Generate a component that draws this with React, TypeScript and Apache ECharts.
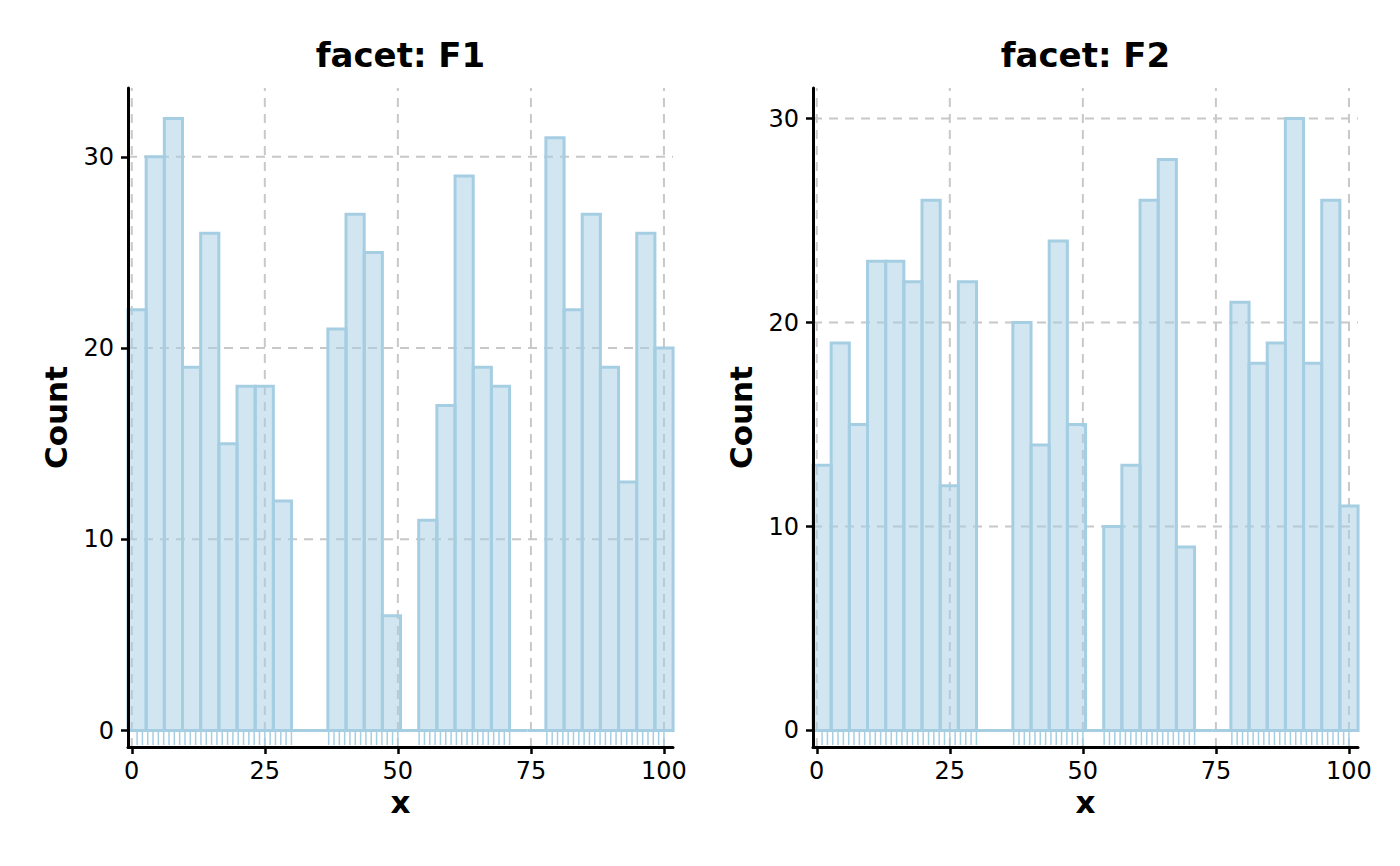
import React, { useEffect, useRef } from "react";
import * as echarts from "echarts";

// ---- data ----
const FACETS = ["F1", "F2"];
const BIN_START = -0.707;
const BIN_WIDTH = 3.414;
const COUNTS_F1 = [22, 30, 32, 19, 26, 15, 18, 18, 12, 0, 0, 21, 27, 25, 6, 0, 11, 17, 29, 19, 18, 0, 0, 31, 22, 27, 19, 13, 26, 20];
const COUNTS_F2 = [13, 19, 15, 23, 23, 22, 26, 12, 22, 0, 0, 20, 14, 24, 15, 0, 10, 13, 26, 28, 9, 0, 0, 21, 18, 19, 30, 18, 26, 11];
const RUG_F1 = [
  1, 2, 3, 4, 5, 6, 7, 8, 9, 10, 11, 12, 13, 14, 15, 16, 17, 18, 19, 20, 21, 22, 23, 24, 25, 26, 27, 28, 29, 30,
  37, 38, 39, 40, 41, 42, 43, 44, 45, 46, 47, 48, 49, 50,
  54, 55, 56, 57, 58, 59, 60, 61, 62, 63, 64, 65, 66, 67, 68, 69, 70, 71,
  78, 79, 80, 81, 82, 83, 84, 85, 86, 87, 88, 89, 90, 91, 92, 93, 94, 95, 96, 97, 98, 99, 100,
];
const RUG_F2 = [
  1, 2, 3, 4, 5, 6, 7, 8, 9, 10, 11, 12, 13, 14, 15, 16, 17, 18, 19, 20, 21, 22, 23, 24, 25, 26, 27, 28, 29, 30,
  37, 38, 39, 40, 41, 42, 43, 44, 45, 46, 47, 48, 49, 50,
  54, 55, 56, 57, 58, 59, 60, 61, 62, 63, 64, 65, 66, 67, 68, 69, 70, 71,
  78, 79, 80, 81, 82, 83, 84, 85, 86, 87, 88, 89, 90, 91, 92, 93, 94, 95, 96, 97, 98, 99, 100,
];
const X_TICKS = [0, 25, 50, 75, 100];
const Y_TICKS_F1 = [0, 10, 20, 30];
const Y_TICKS_F2 = [0, 10, 20, 30];
const X_RANGE = [-0.707, 101.7];
const Y_RANGE_F1 = [-0.86, 33.6];
const Y_RANGE_F2 = [-0.81, 31.5];

// ---- layout / style ----
const FONT = '"DejaVu Sans", "Liberation Sans", sans-serif';
const GRIDS = [
  { left: 128, top: 88, width: 545, height: 659 },
  { left: 813, top: 88, width: 545, height: 659 },
];
const BAR_FILL = "rgba(166,206,227,0.5)";
const BAR_STROKE = "#a6cee3";
const GRID_COLOR = "#c8c8c8";
const GRID_DASH = [9, 7];

function binsOf(counts: number[]) {
  return counts.map((c, i) => [BIN_START + i * BIN_WIDTH, BIN_START + (i + 1) * BIN_WIDTH, c]);
}

export default function App() {
  const ref = useRef<HTMLDivElement>(null);

  useEffect(() => {
    if (!ref.current) return;
    const chart = echarts.init(ref.current, undefined, { renderer: "svg" });

    const facetData = [
      { name: FACETS[0], counts: COUNTS_F1, rug: RUG_F1, yTicks: Y_TICKS_F1, yRange: Y_RANGE_F1 },
      { name: FACETS[1], counts: COUNTS_F2, rug: RUG_F2, yTicks: Y_TICKS_F2, yRange: Y_RANGE_F2 },
    ];

    const grid: any[] = [];
    const xAxis: any[] = [];
    const yAxis: any[] = [];
    const series: any[] = [];
    const graphic: any[] = [];

    facetData.forEach((f, i) => {
      const g = GRIDS[i];
      grid.push({ ...g, containLabel: false });
      xAxis.push({
        gridIndex: i,
        type: "value",
        min: X_RANGE[0],
        max: X_RANGE[1],
        z: 10,
        axisLine: { show: true, onZero: false, lineStyle: { color: "#000", width: 3 } },
        axisTick: { show: true, length: 7, customValues: X_TICKS, lineStyle: { color: "#000", width: 2.5 } },
        axisLabel: { customValues: X_TICKS, fontSize: 24, color: "#000", fontFamily: FONT, margin: 12 },
        splitLine: { show: false },
      });
      yAxis.push({
        gridIndex: i,
        type: "value",
        min: f.yRange[0],
        max: f.yRange[1],
        z: 10,
        axisLine: { show: true, onZero: false, lineStyle: { color: "#000", width: 3 } },
        axisTick: { show: true, length: 7, customValues: f.yTicks, lineStyle: { color: "#000", width: 2.5 } },
        axisLabel: { customValues: f.yTicks, fontSize: 24, color: "#000", fontFamily: FONT, margin: 14 },
        splitLine: { show: false },
      });

      const yMin = f.yRange[0];
      const yMax = f.yRange[1];

      // vertical grid lines
      series.push({
        type: "custom",
        xAxisIndex: i,
        yAxisIndex: i,
        z: 1,
        silent: true,
        clip: false,
        data: X_TICKS.map((v) => [v]),
        encode: { x: 0 },
        renderItem: (_p: any, api: any) => {
          const v = api.value(0);
          const a = api.coord([v, yMin]);
          const b = api.coord([v, yMax]);
          return {
            type: "line",
            shape: { x1: a[0], y1: a[1], x2: b[0], y2: b[1] },
            style: { stroke: GRID_COLOR, lineWidth: 2, lineDash: GRID_DASH },
          };
        },
      });
      // horizontal grid lines
      series.push({
        type: "custom",
        xAxisIndex: i,
        yAxisIndex: i,
        z: 1,
        silent: true,
        clip: false,
        data: f.yTicks.map((v) => [X_RANGE[0], v]),
        encode: { x: 0, y: 1 },
        renderItem: (_p: any, api: any) => {
          const v = api.value(1);
          const a = api.coord([X_RANGE[0], v]);
          const b = api.coord([X_RANGE[1], v]);
          return {
            type: "line",
            shape: { x1: a[0], y1: a[1], x2: b[0], y2: b[1] },
            style: { stroke: GRID_COLOR, lineWidth: 2, lineDash: GRID_DASH },
          };
        },
      });
      // histogram bars
      series.push({
        type: "custom",
        xAxisIndex: i,
        yAxisIndex: i,
        z: 3,
        clip: false,
        data: binsOf(f.counts),
        encode: { x: [0, 1], y: 2 },
        renderItem: (_p: any, api: any) => {
          const lo = api.value(0);
          const hi = api.value(1);
          const c = api.value(2);
          const p0 = api.coord([lo, 0]);
          const p1 = api.coord([hi, c]);
          return {
            type: "rect",
            shape: { x: p0[0], y: p1[1], width: p1[0] - p0[0], height: p0[1] - p1[1] },
            style: { fill: BAR_FILL, stroke: BAR_STROKE, lineWidth: 3 },
          };
        },
      });
      // rug
      series.push({
        type: "custom",
        xAxisIndex: i,
        yAxisIndex: i,
        z: 4,
        clip: false,
        silent: true,
        data: f.rug.map((v) => [v]),
        encode: { x: 0 },
        renderItem: (_p: any, api: any) => {
          const v = api.value(0);
          const a = api.coord([v, yMin]);
          const b = api.coord([v, 0]);
          return {
            type: "line",
            shape: { x1: a[0], y1: a[1] - 2, x2: b[0], y2: b[1] },
            style: { stroke: BAR_STROKE, lineWidth: 1.5 },
          };
        },
      });

      const cx = g.left + g.width / 2;
      const cy = g.top + g.height / 2;
      graphic.push({
        type: "text",
        x: cx,
        y: 55,
        style: { text: "facet: " + f.name, font: `bold 34px ${FONT}`, fill: "#000", textAlign: "center", textVerticalAlign: "middle" },
      });
      graphic.push({
        type: "text",
        x: cx,
        y: 802,
        style: { text: "x", font: `bold 31px ${FONT}`, fill: "#000", textAlign: "center", textVerticalAlign: "middle" },
      });
      graphic.push({
        type: "text",
        x: g.left - 72,
        y: cy,
        rotation: Math.PI / 2,
        style: { text: "Count", font: `bold 31px ${FONT}`, fill: "#000", textAlign: "center", textVerticalAlign: "middle" },
      });
    });

    chart.setOption({
      animation: false,
      backgroundColor: "#fff",
      grid,
      xAxis,
      yAxis,
      series,
      graphic,
    });

    return () => chart.dispose();
  }, []);

  return <div ref={ref} style={{ position: "absolute", left: 0, top: 0, width: 1400, height: 866 }} />;
}
